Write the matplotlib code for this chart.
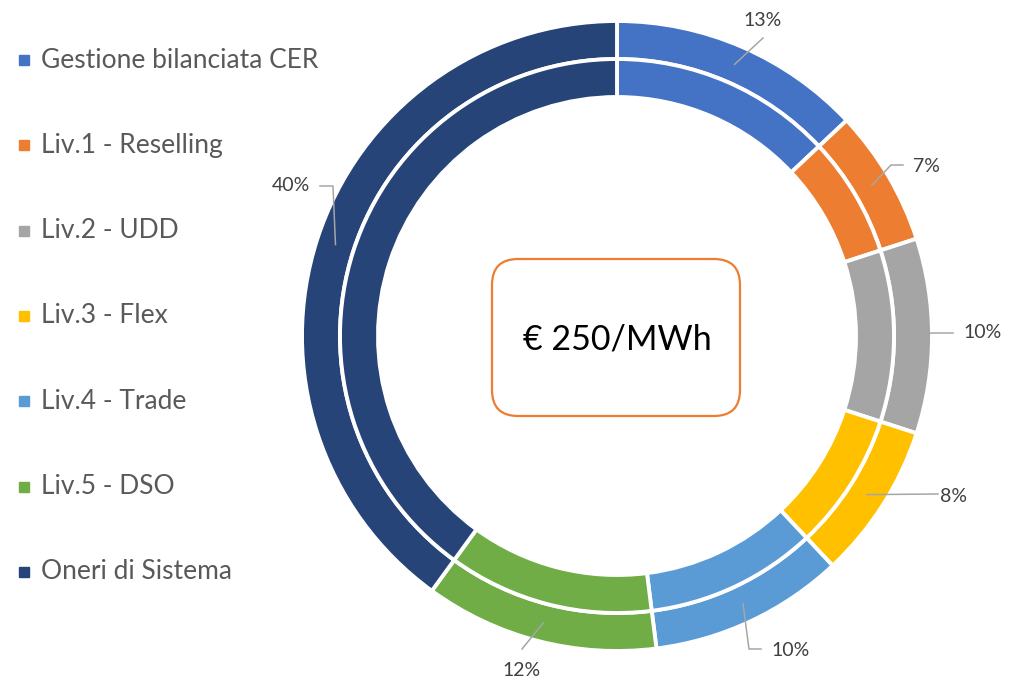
import matplotlib
matplotlib.use("Agg")
import matplotlib.pyplot as plt
from matplotlib.patches import FancyBboxPatch, Rectangle
import numpy as np

categories = ["Gestione bilanciata CER", "Liv.1 - Reselling", "Liv.2 - UDD",
              "Liv.3 - Flex", "Liv.4 - Trade", "Liv.5 - DSO", "Oneri di Sistema"]
shares = [13, 7, 10, 8, 10, 12, 40]
colors = ["#4472C4", "#ED7D31", "#A5A5A5", "#FFC000", "#5B9BD5", "#70AD47", "#264478"]
center_text = "€ 250/MWh"

W, H = 1020, 681
plt.rcParams['font.family'] = ['Lato', 'DejaVu Sans']

fig = plt.figure(figsize=(W / 100, H / 100), dpi=100)
ax = fig.add_axes([0, 0, 1, 1])

cx, cy = 617, H - 336
r_out, ring = 315, 38

# two rings, same data
ax.pie(shares, radius=r_out, center=(cx, cy), startangle=90, counterclock=False,
       colors=colors, wedgeprops=dict(width=ring, edgecolor='white', linewidth=2.8))
ax.pie(shares, radius=r_out - ring, center=(cx, cy), startangle=90,
       counterclock=False, colors=colors,
       wedgeprops=dict(width=ring, edgecolor='white', linewidth=2.8))

ax.set_xlim(0, W)
ax.set_ylim(0, H)
ax.set_aspect('equal')
ax.axis('off')

# data labels with leader lines (image pixel coords, y down)
label_pos = [(763, 21), (913, 167), (963, 333), (940, 497), (771, 651), (522, 670), (291, 186)]
label_ha = ["center", "left", "left", "left", "left", "center", "center"]
leader_pts = [[(763, 38)], [(891, 165), (903, 165)], [(932, 333), (953, 333)],
              [(938, 494)], [(749, 649), (761, 649)], [(522, 649)],
              [(333, 186), (320, 186)]]

cum = np.cumsum([0] + shares)
for i, s in enumerate(shares):
    mid = 90 - 360 * (cum[i] + s / 2) / sum(shares)
    px = cx + (r_out - ring / 2) * np.cos(np.radians(mid))
    py = cy + (r_out - ring / 2) * np.sin(np.radians(mid))
    xs = [px] + [p[0] for p in leader_pts[i]]
    ys = [py] + [H - p[1] for p in leader_pts[i]]
    ax.plot(xs, ys, color="#A6A6A6", lw=1.1, zorder=5)
    tx, ty = label_pos[i]
    ax.text(tx, H - ty, f"{s}%", ha=label_ha[i], va="center",
            fontsize=14, color="#404040")

# center box
box = FancyBboxPatch((492, H - 416), 248, 157, boxstyle="round,pad=0,rounding_size=26",
                     fc="white", ec="#ED7D31", lw=1.6, zorder=6)
ax.add_patch(box)
ax.text(617, H - 340, center_text, ha="center", va="center", fontsize=24.5,
        color="black", zorder=7)

# legend
for i, name in enumerate(categories):
    y = H - (60 + i * 85.3)
    ax.add_patch(Rectangle((19, y - 5), 10, 10, color=colors[i]))
    ax.text(41, y, name, ha="left", va="center", fontsize=19, color="#595959")

fig.savefig("out.png", dpi=100)
